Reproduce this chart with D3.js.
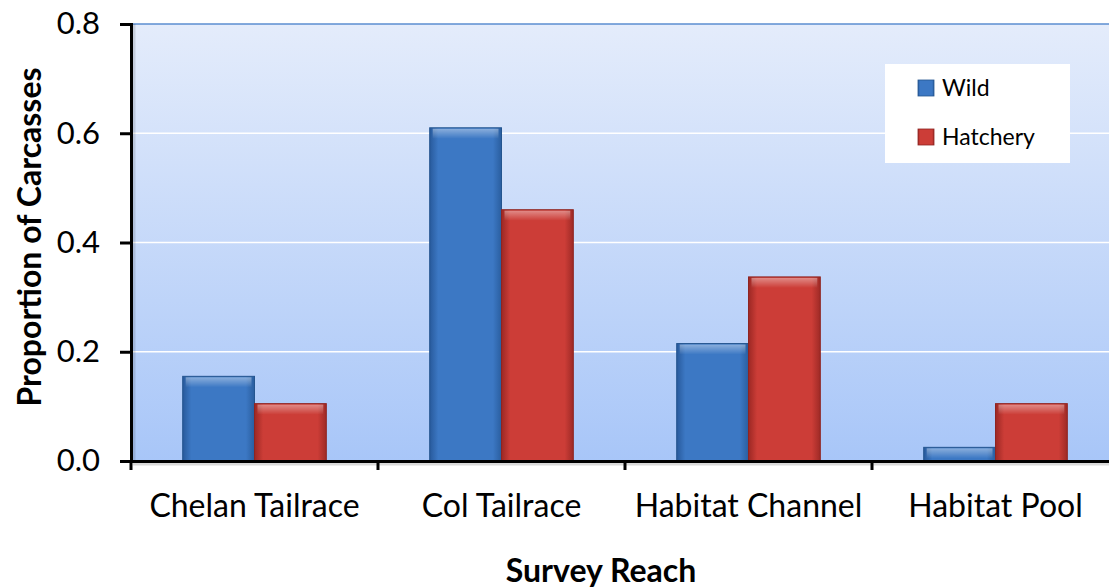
<!DOCTYPE html>
<html>
<head>
<meta charset="utf-8">
<script src="https://cdn.jsdelivr.net/npm/d3@7"></script>
<style>
  body { margin: 0; background: #fff; }
  text { font-family: Lato, "Open Sans", sans-serif; fill: #000; }
</style>
</head>
<body>
<div id="chart"></div>
<script>
// data
const reaches = ["Chelan Tailrace", "Col Tailrace", "Habitat Channel", "Habitat Pool"];
const series = ["Wild", "Hatchery"];
const wild = [0.155, 0.61, 0.215, 0.025];
const hatchery = [0.105, 0.46, 0.337, 0.105];
const yTicks = [0, 0.2, 0.4, 0.6, 0.8];

const W = 1109, H = 588;
const margin = {top: 24, right: -10, bottom: 127, left: 131};
const width = W - margin.left - margin.right;
const height = H - margin.top - margin.bottom;

const svg = d3.select("#chart").append("svg")
    .attr("width", W)
    .attr("height", H);

const defs = svg.append("defs");

// background gradient
const bg = defs.append("linearGradient").attr("id", "bg")
    .attr("x1", 0).attr("y1", 0).attr("x2", 0).attr("y2", 1);
bg.append("stop").attr("offset", "0%").attr("stop-color", "#e4ecfb");
bg.append("stop").attr("offset", "100%").attr("stop-color", "#a8c6f8");

// bar gradients
const barColors = {Wild: ["#285a9c", "#3c78c4", "#2a5e9f"], Hatchery: ["#9c2824", "#cc3d37", "#9e2a26"]};
series.forEach(function(s) {
  const g = defs.append("linearGradient").attr("id", "grad-" + s)
      .attr("x1", 0).attr("y1", 0).attr("x2", 1).attr("y2", 0);
  g.append("stop").attr("offset", "0%").attr("stop-color", barColors[s][0]);
  g.append("stop").attr("offset", "12%").attr("stop-color", barColors[s][1]);
  g.append("stop").attr("offset", "88%").attr("stop-color", barColors[s][1]);
  g.append("stop").attr("offset", "100%").attr("stop-color", barColors[s][2]);
});
const shine = defs.append("linearGradient").attr("id", "shine")
    .attr("x1", 0).attr("y1", 0).attr("x2", 0).attr("y2", 1);
shine.append("stop").attr("offset", "0%").attr("stop-color", "#fff").attr("stop-opacity", 0.4);
shine.append("stop").attr("offset", "100%").attr("stop-color", "#fff").attr("stop-opacity", 0);

const g = svg.append("g")
    .attr("transform", "translate(" + margin.left + "," + margin.top + ")");

const x = d3.scaleBand().domain(reaches).range([0, width]).paddingInner(0).paddingOuter(0);
const x1 = d3.scaleBand().domain(series).range([0, x.bandwidth()]).paddingOuter(0.72).paddingInner(0);
const y = d3.scaleLinear().domain([0, 0.8]).range([height, 0]);

// plot area
g.append("rect")
    .attr("width", width).attr("height", height)
    .attr("fill", "url(#bg)");

// gridlines
g.selectAll(".grid")
    .data(yTicks.filter(function(d) { return d > 0 && d < 0.8; }))
    .enter().append("line")
    .attr("x1", 0).attr("x2", width)
    .attr("y1", function(d) { return y(d); })
    .attr("y2", function(d) { return y(d); })
    .attr("stroke", "#fff").attr("stroke-width", 1.5);

g.append("line")
    .attr("x1", 0).attr("x2", width)
    .attr("y1", y(0.8)).attr("y2", y(0.8))
    .attr("stroke", "#5b8ed0").attr("stroke-width", 1.5);

// bars
const rows = reaches.map(function(r, i) { return {reach: r, Wild: wild[i], Hatchery: hatchery[i]}; });

const groups = g.selectAll(".group")
    .data(rows)
    .enter().append("g")
    .attr("transform", function(d) { return "translate(" + x(d.reach) + ",0)"; });

const bars = groups.selectAll(".bar")
    .data(function(d) { return series.map(function(s) { return {key: s, value: d[s]}; }); })
    .enter();

bars.append("rect")
    .attr("x", function(d) { return x1(d.key); })
    .attr("y", function(d) { return y(d.value); })
    .attr("width", x1.bandwidth())
    .attr("height", function(d) { return height - y(d.value); })
    .attr("fill", function(d) { return "url(#grad-" + d.key + ")"; })
    .attr("stroke", function(d) { return d.key === "Wild" ? "#24558f" : "#8e2421"; })
    .attr("stroke-width", 1);

bars.append("rect")
    .attr("x", function(d) { return x1(d.key) + 3; })
    .attr("y", function(d) { return y(d.value) + 1; })
    .attr("width", x1.bandwidth() - 6)
    .attr("height", function(d) { return Math.min(10, height - y(d.value) - 2); })
    .attr("fill", "url(#shine)");

// soft shadow under the axes
g.append("line")
    .attr("x1", 2).attr("x2", width).attr("y1", height + 3).attr("y2", height + 3)
    .attr("stroke", "#000").attr("stroke-opacity", 0.15).attr("stroke-width", 3);
g.append("line")
    .attr("x1", 3).attr("x2", 3).attr("y1", 0).attr("y2", height)
    .attr("stroke", "#000").attr("stroke-opacity", 0.12).attr("stroke-width", 3);

// axes
const yAxis = g.append("g")
    .call(d3.axisLeft(y).tickValues(yTicks).tickFormat(d3.format(".1f")).tickSize(11).tickPadding(20));
yAxis.select(".domain").attr("stroke", "#000").attr("stroke-width", 3);
yAxis.selectAll(".tick line").attr("stroke", "#000").attr("stroke-width", 3);
yAxis.selectAll(".tick text").attr("font-size", 31).attr("font-family", "Lato, sans-serif");

const xAxis = g.append("g")
    .attr("transform", "translate(0," + height + ")")
    .call(d3.axisBottom(x).tickSize(0).tickPadding(33));
xAxis.select(".domain").attr("stroke", "#000").attr("stroke-width", 3);
xAxis.selectAll(".tick text").attr("font-size", 32).attr("font-family", "Lato, sans-serif");

// category separators on the x axis
xAxis.selectAll(".sep")
    .data(reaches)
    .enter().append("line")
    .attr("x1", function(d) { return x(d); })
    .attr("x2", function(d) { return x(d); })
    .attr("y1", 0).attr("y2", 9)
    .attr("stroke", "#000").attr("stroke-width", 3);

// axis titles
svg.append("text")
    .attr("x", 601)
    .attr("y", 582)
    .attr("text-anchor", "middle")
    .attr("font-size", 32).attr("font-weight", "bold")
    .text("Survey Reach");

svg.append("text")
    .attr("transform", "translate(41,237) rotate(-90)")
    .attr("text-anchor", "middle")
    .attr("font-size", 32).attr("font-weight", "bold")
    .text("Proportion of Carcasses");

// legend
const legend = svg.append("g").attr("transform", "translate(885,64)");
legend.append("rect").attr("width", 185).attr("height", 99).attr("fill", "#fff");
legend.selectAll(".item")
    .data(series)
    .enter().append("g")
    .attr("transform", function(d, i) { return "translate(33," + (16 + i * 49) + ")"; })
    .each(function(d) {
      const it = d3.select(this);
      it.append("rect").attr("width", 16).attr("height", 16)
        .attr("fill", "url(#grad-" + d + ")")
        .attr("stroke", d === "Wild" ? "#24558f" : "#8e2421").attr("stroke-width", 0.8);
      it.append("text").attr("x", 24).attr("y", 16)
        .attr("font-size", 23).text(d);
    });
</script>
</body>
</html>
